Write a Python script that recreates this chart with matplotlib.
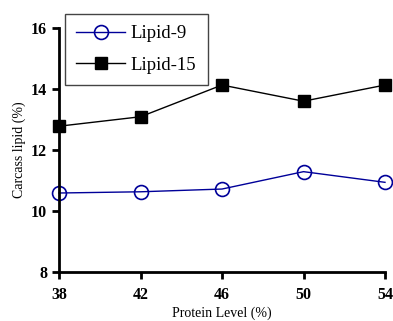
import matplotlib
matplotlib.use("Agg")
from matplotlib import pyplot as plt

protein = [38, 42, 46, 50, 54]
lipid9 = [10.59, 10.63, 10.72, 11.29, 10.94]
lipid15 = [12.78, 13.09, 14.13, 13.60, 14.13]

plt.rcParams['font.family'] = ['Liberation Serif', 'DejaVu Serif']

fig = plt.figure(figsize=(3.93, 3.21), dpi=100)
ax = fig.add_axes([59 / 393, 1 - 272 / 321, 326 / 393, 244 / 321])

ax.plot(protein, lipid9, color='#000099', lw=1, marker='o', ms=10,
        mfc='none', mec='#000099', mew=1.2, label='Lipid-9', clip_on=False)
ax.plot(protein, lipid15, color='black', lw=1, marker='s', ms=8,
        mfc='black', mec='black', label='Lipid-15', clip_on=False)

ax.set_xlim(38, 54)
ax.set_ylim(8, 16)
ax.set_xticks(protein)
ax.set_yticks([8, 10, 12, 14, 16])
for s in ['top', 'right']:
    ax.spines[s].set_visible(False)
for s in ['left', 'bottom']:
    ax.spines[s].set_linewidth(2)
ax.tick_params(direction='out', length=5, width=2, labelsize=11.5)
ax.tick_params(axis='x', pad=6)
for lab in ax.get_xticklabels() + ax.get_yticklabels():
    lab.set_fontweight('bold')

ax.set_xlabel("Protein Level (%)", fontsize=10, labelpad=2)
ax.set_ylabel("Carcass lipid (%)", fontsize=10, labelpad=4)

leg = ax.legend(loc='upper left', bbox_to_anchor=(6 / 326, 1 + 14 / 244),
                borderaxespad=0, fontsize=13.5, fancybox=False, framealpha=1,
                edgecolor='#444444', handlelength=2.6, handletextpad=0.3,
                borderpad=0.6, labelspacing=0.75)
leg.get_frame().set_linewidth(1)

fig.savefig("out.png", dpi=100)
